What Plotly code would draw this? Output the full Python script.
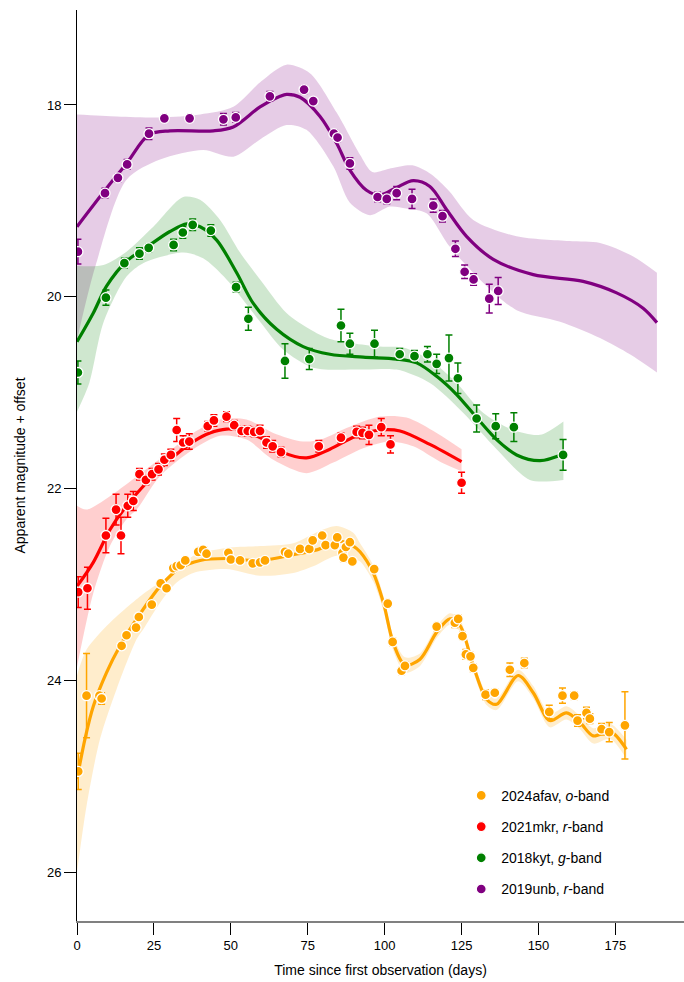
import plotly.graph_objects as go

# ---------------- data ----------------
# 2019unb, r-band (purple)
pur_day = [0.3, 9.1, 13.3, 16.3, 23.4, 28.4, 36.6, 47.6, 51.6, 62.7, 73.8, 76.8, 83.5, 84.7, 88.7,
           97.7, 100.7, 103.9, 108.9, 115.8, 118.8, 123.0, 126.0, 128.9, 134.0, 136.9]
pur_mag = [19.53, 18.92, 18.76, 18.62, 18.30, 18.14, 18.14, 18.15, 18.13, 17.91, 17.84, 17.96, 18.30, 18.34, 18.61,
           18.96, 18.98, 18.92, 18.98, 19.05, 19.16, 19.50, 19.74, 19.82, 20.02, 19.94]
pur_err = [0.13, 0.05, 0.04, 0.05, 0.06, 0.03, 0.03, 0.06, 0.05, 0.05, 0.04, 0.03, 0.04, 0.04, 0.06,
           0.05, 0.05, 0.07, 0.10, 0.07, 0.06, 0.08, 0.07, 0.06, 0.15, 0.14]
pur_fit_day = [0, 9.6, 16.1, 23.4, 30.2, 44.3, 50.8, 59.5, 66, 68.1, 72.5, 79, 84.4, 88.7, 94.1, 98.5,
               103.9, 109.3, 114.7, 120.1, 126.6, 135.3, 148.3, 164.5, 175.4, 184.0, 188.5]
pur_fit_mag = [19.27, 18.87, 18.61, 18.31, 18.27, 18.27, 18.23, 18.02, 17.91, 17.89, 17.92, 18.12, 18.40, 18.68,
               18.89, 18.94, 18.86, 18.79, 18.85, 19.09, 19.37, 19.61, 19.77, 19.84, 19.96, 20.12, 20.27]
pur_up_day = [0, 13, 27, 40, 50.8, 60, 68.1, 75.7, 84.4, 92, 96, 102, 109, 115, 121, 128.8, 142.9, 160, 170, 180.8, 188.5]
pur_up_mag = [18.10, 18.12, 18.13, 18.10, 18.02, 17.75, 17.58, 17.67, 18.08, 18.52, 18.70, 18.66, 18.63, 18.72,
              18.90, 19.20, 19.37, 19.42, 19.44, 19.58, 19.75]
pur_lo_day = [0, 6, 16.1, 27, 41, 50.8, 59.5, 68.1, 74.6, 83.3, 88.7, 95.2, 101.7, 107, 113.6, 121.2, 133.2,
              142.9, 157, 170, 179.7, 188.5]
pur_lo_mag = [20.45, 19.68, 18.78, 18.57, 18.47, 18.54, 18.36, 18.21, 18.26, 18.64, 19.02, 19.15, 19.06, 19.08,
              19.13, 19.48, 19.89, 20.14, 20.26, 20.43, 20.60, 20.79]

# 2018kyt, g-band (green)
grn_day = [0.3, 9.4, 15.4, 20.3, 23.3, 31.4, 34.4, 37.6, 43.5, 51.7, 55.7, 67.6, 75.5, 85.8, 88.7, 96.7,
           104.9, 109.7, 113.9, 116.9, 120.9, 123.8, 129.9, 136.1, 142.0, 158.0]
grn_mag = [20.79, 20.01, 19.65, 19.55, 19.49, 19.46, 19.33, 19.25, 19.31, 19.90, 20.23, 20.67, 20.65, 20.30,
           20.49, 20.49, 20.60, 20.62, 20.60, 20.70, 20.64, 20.85, 21.27, 21.35, 21.36, 21.65]
grn_err = [0.12, 0.08, 0.05, 0.06, 0.04, 0.06, 0.06, 0.06, 0.06, 0.05, 0.12, 0.18, 0.11, 0.17, 0.11, 0.14,
           0.06, 0.06, 0.08, 0.10, 0.24, 0.16, 0.14, 0.13, 0.15, 0.16]
grn_fit_day = [0, 5.3, 9.6, 16.1, 23.7, 30.2, 35.7, 40, 45.4, 51.9, 57.3, 64.9, 73.5, 82.2, 93, 103.9, 110.4,
               116.9, 123.4, 129.9, 136.4, 142.9, 150.5, 158.1]
grn_fit_mag = [20.47, 20.17, 19.89, 19.63, 19.46, 19.32, 19.24, 19.27, 19.41, 19.75, 20.07, 20.34, 20.52, 20.60,
               20.63, 20.65, 20.69, 20.83, 21.02, 21.26, 21.49, 21.65, 21.71, 21.64]
grn_up_day = [0, 8.6, 16.1, 24.8, 34.5, 40, 46.5, 53, 59.5, 68.1, 75.7, 82.2, 98.5, 106, 114.7, 123.4, 132,
              141.8, 150.5, 158.1]
grn_up_mag = [19.68, 19.67, 19.53, 19.27, 18.96, 18.99, 19.20, 19.54, 19.82, 20.17, 20.34, 20.44, 20.52, 20.53,
              20.66, 20.90, 21.21, 21.39, 21.44, 21.30]
grn_lo_day = [0, 4, 8.6, 16.1, 21.5, 34.5, 41, 48.6, 59.5, 67, 76.8, 93, 103.9, 114.7, 125.5, 136.4, 147.2, 158.1]
grn_lo_mag = [21.20, 20.90, 20.27, 19.79, 19.65, 19.54, 19.60, 19.82, 20.26, 20.55, 20.74, 20.76, 20.76, 20.90,
              21.21, 21.59, 21.91, 21.91]

# 2021mkr, r-band (red)
red_day = [0.4, 3.4, 9.4, 12.7, 14.3, 16.5, 18.3, 20.3, 22.4, 24.4, 26.5, 28.4, 30.5, 32.4, 34.5, 36.5, 42.5,
           44.5, 48.6, 51.1, 53.5, 55.5, 57.6, 59.5, 61.6, 63.6, 66.3, 78.6, 85.8, 90.9, 92.8, 94.9, 98.9,
           101.9, 125.0]
red_mag = [23.08, 23.04, 22.49, 22.22, 22.49, 22.18, 22.13, 21.85, 21.91, 21.85, 21.80, 21.70, 21.65, 21.39,
           21.52, 21.51, 21.35, 21.29, 21.25, 21.34, 21.40, 21.40, 21.41, 21.40, 21.52, 21.56, 21.62, 21.56,
           21.47, 21.41, 21.42, 21.44, 21.36, 21.54, 21.94]
red_err = [0.16, 0.22, 0.18, 0.16, 0.19, 0.12, 0.10, 0.06, 0.05, 0.06, 0.06, 0.06, 0.06, 0.12, 0.07, 0.08, 0.05,
           0.06, 0.05, 0.05, 0.05, 0.05, 0.05, 0.06, 0.06, 0.06, 0.05, 0.06, 0.05, 0.06, 0.06, 0.10, 0.09,
           0.09, 0.11]
red_fit_day = [0, 5.3, 10.7, 16.1, 22.6, 30.2, 37.8, 43.2, 48.6, 54, 59.5, 66, 74.6, 82.2, 90.9, 98.5, 105,
               114.7, 125]
red_fit_mag = [23.02, 22.77, 22.43, 22.18, 21.94, 21.70, 21.51, 21.42, 21.38, 21.40, 21.47, 21.61, 21.68, 21.59,
               21.45, 21.39, 21.40, 21.54, 21.72]
red_up_day = [0, 3.1, 10.7, 18.3, 27, 37.8, 46.5, 55.1, 63.8, 73.5, 80, 87.6, 98.5, 107.1, 116.9, 125]
red_up_mag = [22.18, 22.22, 22.08, 21.90, 21.69, 21.42, 21.28, 21.28, 21.42, 21.51, 21.48, 21.37, 21.25, 21.26,
              21.42, 21.59]
red_lo_day = [0, 5.3, 10.7, 16.1, 19.4, 27, 37.8, 46.5, 55.1, 63.8, 74.6, 83.3, 93, 101.7, 109.3, 118, 125]
red_lo_mag = [23.86, 23.09, 22.60, 22.32, 22.22, 21.87, 21.59, 21.45, 21.49, 21.70, 21.84, 21.73, 21.58, 21.51,
              21.56, 21.72, 21.82]

# 2024afav, o-band (orange)
ora_day = [0.4, 3.1, 7.3, 8.0, 14.5, 16.1, 19.2, 20.1, 24.3, 27.2, 29.1, 31.3, 32.4, 33.7, 35.2, 39.4, 41.0,
           42.1, 49.2, 50.0, 53.0, 57.1, 59.5, 61.1, 67.6, 68.7, 72.5, 75.5, 76.6, 79.7, 80.8, 83.8, 84.6,
           86.3, 86.6, 87.4, 88.7, 89.5, 96.6, 101.0, 102.6, 105.5, 106.6, 116.9, 122.8, 123.9, 125.3,
           126.4, 127.9, 128.8, 132.8, 135.8, 140.7, 145.4, 153.5, 157.8, 161.6, 162.7, 165.6, 166.7,
           170.5, 173.0, 178.1]
ora_mag = [24.95, 24.16, 24.16, 24.19, 23.64, 23.53, 23.45, 23.34, 23.21, 22.99, 23.04, 22.83, 22.81, 22.80,
           22.75, 22.66, 22.64, 22.68, 22.67, 22.74, 22.75, 22.78, 22.77, 22.75, 22.66, 22.68, 22.63, 22.63,
           22.54, 22.49, 22.59, 22.59, 22.51, 22.67, 22.72, 22.61, 22.56, 22.76, 22.84, 23.20, 23.60, 23.90,
           23.85, 23.44, 23.40, 23.36, 23.54, 23.73, 23.75, 23.87, 24.15, 24.13, 23.89, 23.82, 24.33, 24.16,
           24.16, 24.42, 24.34, 24.40, 24.51, 24.54, 24.47]
ora_err = [0.19, 0.44, 0.04, 0.06, 0.03, 0.03, 0.03, 0.03, 0.03, 0.03, 0.03, 0.03, 0.03, 0.03, 0.03, 0.03, 0.03,
           0.03, 0.03, 0.03, 0.03, 0.03, 0.03, 0.03, 0.03, 0.03, 0.03, 0.03, 0.03, 0.03, 0.03, 0.03, 0.03,
           0.04, 0.04, 0.03, 0.03, 0.03, 0.03, 0.03, 0.04, 0.04, 0.04, 0.04, 0.05, 0.04, 0.04, 0.05, 0.04,
           0.04, 0.05, 0.04, 0.07, 0.05, 0.07, 0.08, 0.04, 0.06, 0.06, 0.05, 0.06, 0.10, 0.35]
ora_fit_day = [0, 2.6, 5.3, 9.6, 14, 19.4, 27, 33.5, 40, 48.6, 59.5, 70.3, 77.9, 85.5, 89.8, 92, 96.3, 99.6,
               102.8, 106.6, 111.5, 116.9, 121.2, 124.5, 128.8, 133.2, 136.4, 143.4, 148.3, 153.7, 159.1,
               163.5, 167.8, 173.2, 178.6]
ora_fit_mag = [25.03, 24.61, 24.27, 23.92, 23.64, 23.36, 23.02, 22.83, 22.75, 22.73, 22.75, 22.69, 22.64, 22.55,
               22.60, 22.66, 22.88, 23.19, 23.61, 23.84, 23.78, 23.50, 23.36, 23.43, 23.85, 24.20, 24.25, 23.95,
               24.13, 24.42, 24.34, 24.44, 24.58, 24.53, 24.72]
ora_up_day = [0, 3.1, 10.7, 21.5, 27, 32.4, 37.8, 48.6, 59.5, 70.3, 79, 84.4, 89.8, 92, 96.3, 99.6, 102.8, 106.6,
              111.5, 116.9, 121.2, 124.5, 128.8, 133.2, 136.4, 143.4, 148.3, 153.7, 159.1, 163.5, 167.8,
              173.2, 178.6]
ora_up_mag = [23.95, 23.68, 23.40, 23.10, 22.98, 22.88, 22.70, 22.62, 22.60, 22.57, 22.44, 22.39, 22.46, 22.57,
              22.80, 23.12, 23.54, 23.76, 23.72, 23.44, 23.30, 23.37, 23.79, 24.14, 24.19, 23.89, 24.06, 24.35,
              24.27, 24.37, 24.50, 24.45, 24.62]
ora_lo_day = [0, 3.1, 7.5, 12.9, 19.4, 21.5, 27, 32.4, 37.8, 48.6, 59.5, 70.3, 76.8, 84.4, 89.8, 92, 96.3, 99.6,
              102.8, 106.6, 111.5, 116.9, 121.2, 124.5, 128.8, 133.2, 136.4, 143.4, 148.3, 153.7, 159.1,
              163.5, 167.8, 173.2, 178.6]
ora_lo_mag = [26.00, 25.31, 24.61, 24.09, 23.57, 23.47, 23.19, 22.98, 22.88, 22.84, 22.91, 22.88, 22.81, 22.70,
              22.74, 22.76, 22.97, 23.27, 23.69, 23.92, 23.85, 23.56, 23.42, 23.49, 23.91, 24.26, 24.31, 24.01,
              24.19, 24.49, 24.41, 24.51, 24.66, 24.61, 24.82]

x_ticks = [0, 25, 50, 75, 100, 125, 150, 175]
y_ticks = [18, 20, 22, 24, 26]

series = [
    dict(name="2024afav, <i>o</i>-band", color="#ffa500", band="rgba(255,165,0,0.20)",
         d=ora_day, m=ora_mag, e=ora_err, fd=ora_fit_day, fm=ora_fit_mag,
         ud=ora_up_day, um=ora_up_mag, ld=ora_lo_day, lm=ora_lo_mag),
    dict(name="2021mkr, <i>r</i>-band", color="#ff0000", band="rgba(255,0,0,0.19)",
         d=red_day, m=red_mag, e=red_err, fd=red_fit_day, fm=red_fit_mag,
         ud=red_up_day, um=red_up_mag, ld=red_lo_day, lm=red_lo_mag),
    dict(name="2018kyt, <i>g</i>-band", color="#008000", band="rgba(0,128,0,0.19)",
         d=grn_day, m=grn_mag, e=grn_err, fd=grn_fit_day, fm=grn_fit_mag,
         ud=grn_up_day, um=grn_up_mag, ld=grn_lo_day, lm=grn_lo_mag),
    dict(name="2019unb, <i>r</i>-band", color="#800080", band="rgba(128,0,128,0.20)",
         d=pur_day, m=pur_mag, e=pur_err, fd=pur_fit_day, fm=pur_fit_mag,
         ud=pur_up_day, um=pur_up_mag, ld=pur_lo_day, lm=pur_lo_mag),
]

fig = go.Figure()

# bands: lower edge (no fill), then upper edge filled to it
for s in reversed(series):
    fig.add_trace(go.Scatter(x=s["ld"], y=s["lm"], mode="lines",
                             line=dict(width=0, shape="spline", smoothing=0.8),
                             hoverinfo="skip", showlegend=False))
    fig.add_trace(go.Scatter(x=s["ud"], y=s["um"], mode="lines", fill="tonexty",
                             fillcolor=s["band"],
                             line=dict(width=0, shape="spline", smoothing=0.8),
                             hoverinfo="skip", showlegend=False))

# fit lines
for s in reversed(series):
    fig.add_trace(go.Scatter(x=s["fd"], y=s["fm"], mode="lines",
                             line=dict(color=s["color"], width=3.2, shape="spline", smoothing=0.9),
                             showlegend=False, hoverinfo="skip"))

# points
for i, s in enumerate(series):
    fig.add_trace(go.Scatter(
        x=s["d"], y=s["m"], mode="markers", name=s["name"], legendrank=i + 1,
        legendgroup=f"g{i}",
        marker=dict(color=s["color"], size=10, line=dict(color="white", width=1.3)),
        error_y=dict(type="data", array=s["e"], visible=True, color=s["color"],
                     thickness=1.5, width=3.5),
    ))

font_family = "Liberation Sans, Arial, Helvetica, sans-serif"
fig.update_layout(
    width=684, height=982,
    margin=dict(l=77, r=0, t=10, b=61),
    paper_bgcolor="white", plot_bgcolor="white",
    font=dict(family=font_family, size=13, color="black"),
    legend=dict(x=0.633, y=0.155, xanchor="left", yanchor="top",
                font=dict(size=14, family=font_family), tracegroupgap=10,
                bgcolor="rgba(0,0,0,0)"),
    xaxis=dict(range=[0, 197.3], tickvals=x_ticks, ticks="outside", ticklen=12, tickwidth=1,
               tickcolor="black", showline=True, linecolor="#808080", linewidth=1.5,
               showgrid=False, zeroline=False,
               title=dict(text="Time since first observation (days)", standoff=13,
                          font=dict(size=14))),
    yaxis=dict(range=[26.51, 17.01], tickvals=y_ticks, ticks="outside", ticklen=12, tickwidth=1,
               tickcolor="black", showline=True, linecolor="black", linewidth=1,
               showgrid=False, zeroline=False,
               title=dict(text="Apparent magnitude + offset", standoff=18, font=dict(size=14))),
)

fig.write_html("out.html")
